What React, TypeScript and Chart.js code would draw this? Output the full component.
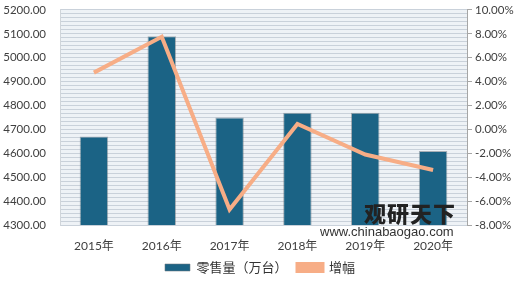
import React, { useEffect, useRef } from "react";
import { Chart, registerables } from "chart.js";

Chart.register(...registerables);

const categories = ["2015年", "2016年", "2017年", "2018年", "2019年", "2020年"];
const salesValues = [4670, 5090, 4750, 4770, 4770, 4610];
const growthValues = [4.75, 7.75, -6.7, 0.45, -2.1, -3.4];
const stripeCount = 54;

const FONT = "Lato, 'Noto Sans CJK SC', sans-serif";

const bgPlugin = {
  id: "plotBg",
  beforeDraw(chart: any) {
    const { ctx, chartArea } = chart;
    ctx.save();
    ctx.fillStyle = "#eef2f6";
    ctx.fillRect(chartArea.left, chartArea.top, chartArea.right - chartArea.left, chartArea.bottom - chartArea.top);
    ctx.restore();
  },
};

export default function App() {
  const ref = useRef<HTMLCanvasElement | null>(null);
  useEffect(() => {
    document.body.style.margin = "0";
    const chart = new Chart(ref.current!, {
      type: "bar",
      plugins: [bgPlugin],
      data: {
        labels: categories,
        datasets: [
          {
            type: "bar",
            label: "零售量（万台）",
            data: salesValues,
            backgroundColor: "#1b6385",
            borderColor: "rgba(110,120,130,0.55)",
            borderWidth: 1,
            barPercentage: 0.42,
            categoryPercentage: 1,
            yAxisID: "y",
            order: 2,
          },
          {
            type: "line",
            label: "增幅",
            data: growthValues,
            borderColor: "#f7ad86",
            backgroundColor: "#f7ad86",
            borderWidth: 4,
            pointRadius: 0,
            tension: 0,
            yAxisID: "y1",
            order: 1,
          },
        ],
      },
      options: {
        animation: false,
        responsive: false,
        layout: { padding: { top: -2, left: 0, right: 0, bottom: 2 } },
        plugins: {
          tooltip: { enabled: false },
          legend: {
            position: "bottom",
            labels: {
              font: { family: FONT, size: 13 },
              color: "#333",
              boxWidth: 25,
              boxHeight: 7,
              padding: 10,
              sort: (a: any, b: any) => a.datasetIndex - b.datasetIndex,
            },
          },
        },
        scales: {
          x: {
            grid: { display: false },
            border: { display: false },
            ticks: { font: { family: FONT, size: 12 }, color: "#404040", padding: 6 },
            afterFit(s: any) { s.height = 26; },
          },
          stripes: {
            position: "left",
            min: 0,
            max: stripeCount,
            ticks: { display: false, stepSize: 1 },
            grid: { color: "#c9d1da", drawTicks: false, lineWidth: 1 },
            border: { display: false },
            afterFit(s: any) { s.width = 0; },
          },
          y: {
            position: "left",
            min: 4300,
            max: 5200,
            ticks: {
              stepSize: 100,
              font: { family: FONT, size: 11.5 },
              color: "#404040",
              padding: 3,
              callback: (v: any) => Number(v).toFixed(2),
            },
            grid: { display: false, drawTicks: true, tickLength: 11 },
            border: { display: true, color: "#d0d5da" },
            afterFit(s: any) { s.width = 60; },
          },
          y1: {
            position: "right",
            min: -8,
            max: 10,
            ticks: {
              stepSize: 2,
              font: { family: FONT, size: 11.5 },
              color: "#404040",
              padding: 3,
              callback: (v: any) => Number(v).toFixed(2) + "%",
            },
            grid: { drawOnChartArea: false, drawTicks: true, tickLength: 5, color: "#a6a6a6" },
            border: { display: true, color: "#a6a6a6" },
            afterFit(s: any) { s.width = 53; },
          },
        },
      },
    } as any);
    return () => chart.destroy();
  }, []);
  return (
    <div style={{ position: "relative", width: 520, height: 286 }}>
      <canvas ref={ref} width={520} height={286} />
      <div style={{ position: "absolute", left: 364, top: 196, fontFamily: "'Noto Sans CJK SC', sans-serif", fontWeight: 900, fontSize: 22, color: "#222", letterSpacing: 1 }}>观研天下</div>
      <div style={{ position: "absolute", left: 320, top: 224, fontFamily: "'Liberation Sans', sans-serif", fontSize: 13, color: "#333" }}>www.chinabaogao.com</div>
    </div>
  );
}
